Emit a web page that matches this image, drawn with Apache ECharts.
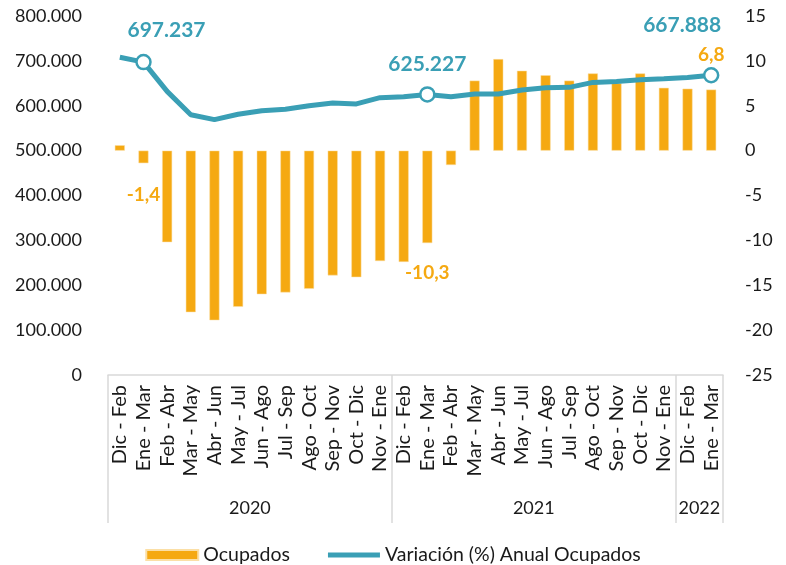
<!DOCTYPE html>
<html>
<head>
<meta charset="utf-8">
<script src="https://cdn.jsdelivr.net/npm/echarts@6/dist/echarts.min.js"></script>
<style>
  html, body { margin: 0; padding: 0; background: #fff; }
  #chart { width: 786px; height: 565px; }
</style>
</head>
<body>
<div id="chart"></div>
<script>
var categories = [
    'Dic - Feb', 'Ene - Mar', 'Feb - Abr', 'Mar - May', 'Abr - Jun', 'May - Jul',
    'Jun - Ago', 'Jul - Sep', 'Ago - Oct', 'Sep - Nov', 'Oct - Dic', 'Nov - Ene',
    'Dic - Feb', 'Ene - Mar', 'Feb - Abr', 'Mar - May', 'Abr - Jun', 'May - Jul',
    'Jun - Ago', 'Jul - Sep', 'Ago - Oct', 'Sep - Nov', 'Oct - Dic', 'Nov - Ene',
    'Dic - Feb', 'Ene - Mar'
];
var years = ['2020', '2021', '2022'];
var yearSizes = [12, 12, 2];

// nivel (eje izquierdo)
var ocupados = [
    708000, 697237, 632000, 580000, 569000, 581000, 589000, 592000, 600000, 606000, 604000, 618000,
    620000, 625227, 620000, 626000, 626000, 635000, 640000, 641000, 652000, 654000, 658000, 660000,
    663000, 667888
];
// variación anual % (eje derecho)
var variacion = [
    0.6, -1.4, -10.2, -18.0, -18.9, -17.4, -16.0, -15.8, -15.4, -13.9, -14.1, -12.3,
    -12.4, -10.3, -1.6, 7.8, 10.2, 8.9, 8.4, 7.8, 8.6, 7.5, 8.6, 7.0,
    6.9, 6.8
];
var leftTicks = [0, 800000, 100000];
var rightTicks = [-25, 15, 5];
var marked = [1, 13, 25];

var teal = '#3A9FB5';
var orange = '#F5A912';
var font = 'Lato';

function miles(v) {
    return String(v).replace(/\B(?=(\d{3})+(?!\d))/g, '.');
}

// límites y centros de cada año en el eje de grupos
var bounds = [0], centers = [];
yearSizes.forEach(function (n) {
    var start = bounds[bounds.length - 1];
    bounds.push(start + n);
    centers.push(start + n / 2);
});

var lineOffsets = {1: [23, -8], 13: [0, -6], 25: [-29, -26]};
var lineData = ocupados.map(function (v, i) {
    if (marked.indexOf(i) < 0) return v;
    return {
        value: v,
        symbol: 'circle',
        symbolSize: 14,
        label: {show: true, offset: lineOffsets[i]}
    };
});
var barDist = {1: 22, 13: 20, 25: 25};
var barData = variacion.map(function (v, i) {
    if (marked.indexOf(i) < 0) return v;
    return {value: v, label: {show: true, position: 'outside', distance: barDist[i]}};
});

var myChart = echarts.init(document.getElementById('chart'));
myChart.setOption({
    animation: false,
    textStyle: {fontFamily: font},
    grid: {left: 108, right: 63, top: 16, bottom: 190},
    legend: {
        top: 540,
        left: 'center',
        itemWidth: 52,
        itemHeight: 10,
        itemGap: 38,
        textStyle: {fontSize: 19.5, color: '#1a1a1a', fontFamily: font},
        data: [
            {name: 'Ocupados', icon: 'rect'},
            {
                name: 'Variación (%) Anual Ocupados',
                icon: 'path://M0,0H104V10H0Z',
                itemStyle: {color: teal, borderWidth: 0}
            }
        ]
    },
    xAxis: [{
        type: 'category',
        data: categories,
        axisLine: {onZero: false, lineStyle: {color: '#D9D9D9', width: 1.5}},
        axisTick: {show: false},
        axisLabel: {
            interval: 0,
            rotate: 90,
            margin: 10,
            fontSize: 20,
            color: '#1a1a1a',
            fontFamily: font
        }
    }, {
        type: 'value',
        position: 'bottom',
        min: 0,
        max: categories.length,
        axisLine: {show: false, onZero: false},
        splitLine: {show: false},
        axisTick: {
            show: true,
            inside: false,
            customValues: bounds,
            length: 148,
            lineStyle: {color: '#D9D9D9', width: 1.5}
        },
        axisLabel: {
            customValues: centers,
            margin: 124,
            fontSize: 18,
            color: '#1a1a1a',
            fontFamily: font,
            formatter: function (v) {
                return years[centers.indexOf(v)];
            }
        }
    }],
    yAxis: [{
        type: 'value',
        min: leftTicks[0],
        max: leftTicks[1],
        interval: leftTicks[2],
        splitLine: {show: false},
        axisLine: {show: false},
        axisTick: {show: false},
        axisLabel: {
            margin: 26,
            fontSize: 18,
            color: '#1a1a1a',
            fontFamily: font,
            formatter: miles
        }
    }, {
        type: 'value',
        position: 'right',
        min: rightTicks[0],
        max: rightTicks[1],
        interval: rightTicks[2],
        splitLine: {show: false},
        axisLine: {show: false},
        axisTick: {show: false},
        axisLabel: {
            margin: 22,
            fontSize: 18,
            color: '#1a1a1a',
            fontFamily: font
        }
    }],
    series: [{
        name: 'Ocupados',
        type: 'bar',
        yAxisIndex: 1,
        barWidth: 10,
        itemStyle: {color: orange, borderColor: '#FBDFA6', borderWidth: 0.5},
        label: {
            show: false,
            color: orange,
            fontSize: 19,
            fontWeight: 'bold',
            fontFamily: font,
            formatter: function (p) {
                return String(p.value).replace('.', ',');
            }
        },
        data: barData,
        z: 2
    }, {
        name: 'Variación (%) Anual Ocupados',
        type: 'line',
        yAxisIndex: 0,
        symbol: 'none',
        lineStyle: {color: teal, width: 5},
        itemStyle: {color: '#fff', borderColor: teal, borderWidth: 2.5},
        label: {
            show: false,
            position: 'top',
            color: teal,
            fontSize: 21,
            fontWeight: 'bold',
            fontFamily: font,
            formatter: function (p) {
                return miles(p.value);
            }
        },
        data: lineData,
        z: 5
    }]
});
</script>
</body>
</html>
